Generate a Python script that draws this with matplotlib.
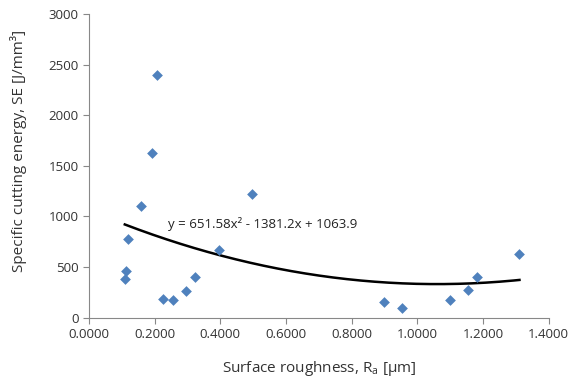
import numpy as np
import matplotlib.pyplot as plt

plt.rcParams['font.family'] = ['Open Sans', 'DejaVu Sans']

# surface roughness Ra [um] and specific cutting energy SE [J/mm3]
ra = [0.206, 0.192, 0.497, 0.157, 0.118, 0.112, 0.109, 0.226, 0.257, 0.295,
      0.324, 0.395, 0.899, 0.953, 1.099, 1.153, 1.181, 1.311]
se = [2400, 1624, 1222, 1103, 780, 465, 385, 182, 175, 267,
      402, 669, 158, 93, 171, 277, 402, 632]

# polynomial trendline coefficients (order 2)
coef = [651.58, -1381.2, 1063.9]

fig = plt.figure(figsize=(5.71, 3.92), dpi=100)
ax = fig.add_axes([89/571, 1 - 317.7/392, (548.7-89)/571, (317.7-14)/392])

ax.scatter(ra, se, marker='D', s=30, color='#4f81bd', zorder=3, linewidths=0)

xs = np.linspace(min(ra), max(ra), 200)
ax.plot(xs, np.polyval(coef, xs), color='black', lw=1.8, zorder=2)

ax.text(0.24, 925, 'y = 651.58x² - 1381.2x + 1063.9', fontsize=9.5,
        va='center', ha='left', color='#222222')

ax.set_xlim(0, 1.4)
ax.set_ylim(0, 3000)
ax.set_xticks(np.arange(0, 1.41, 0.2))
ax.set_xticklabels(['%.4f' % v for v in np.arange(0, 1.41, 0.2)])
ax.set_yticks(np.arange(0, 3001, 500))

for s in ['top', 'right']:
    ax.spines[s].set_visible(False)
for s in ['left', 'bottom']:
    ax.spines[s].set_color('#888888')
ax.tick_params(colors='#888888', labelcolor='#333333', labelsize=9.5,
               length=4, direction='out')

ax.set_xlabel('Surface roughness, R$_\\mathregular{a}$ [µm]', fontsize=11,
              color='#333333', labelpad=13)
ax.set_ylabel('Specific cutting energy, SE [J/mm³]', fontsize=11,
              color='#333333')
ax.yaxis.set_label_coords(-0.135, 0.55)

fig.savefig('out.png', dpi=100)
